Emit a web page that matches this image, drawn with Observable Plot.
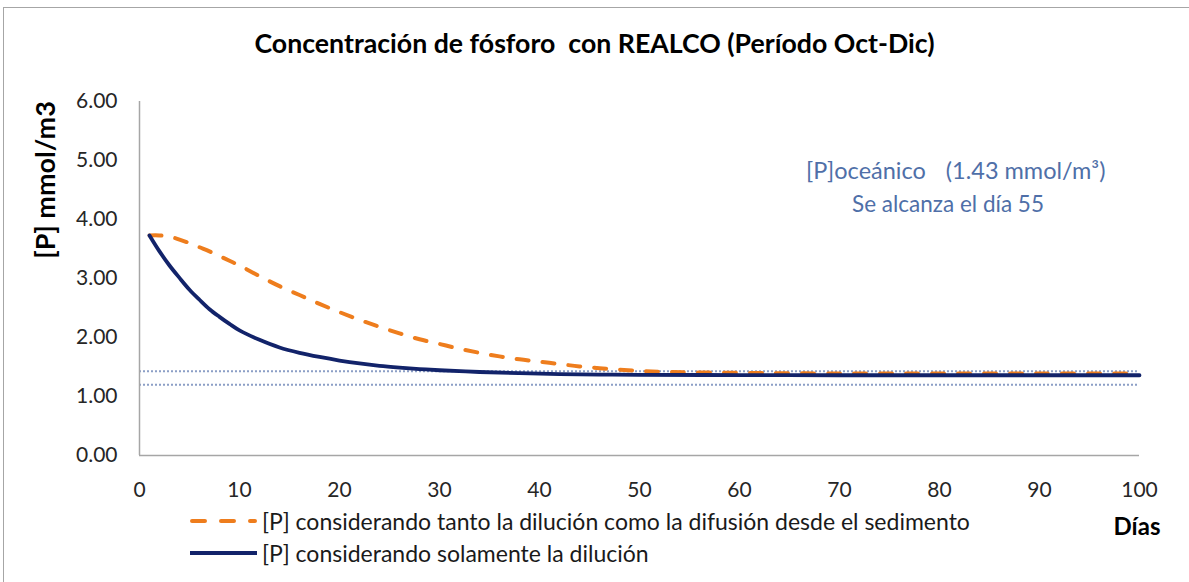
<!DOCTYPE html>
<html>
<head>
<meta charset="utf-8">
<script src="https://cdn.jsdelivr.net/npm/d3@7"></script>
<script src="https://cdn.jsdelivr.net/npm/@observablehq/plot@0.6"></script>
<style>
  html, body { margin: 0; padding: 0; background: #fff; }
  #wrap { position: relative; width: 1189px; height: 582px; overflow: hidden; font-family: Lato, "Open Sans", sans-serif; }
  #frame { position: absolute; left: 3px; top: 7px; width: 1200px; height: 600px; border-left: 1px solid #a6a6a6; border-top: 1px solid #a6a6a6; }
  #chart { position: absolute; left: 0; top: 0; }
  #title { position: absolute; left: 0; width: 1189px; top: 27px; text-align: center; font-weight: bold; font-size: 26.7px; color: #000; white-space: pre; }
  #ylabel { position: absolute; left: 44px; top: 180px; transform: translate(-50%, -50%) rotate(-90deg); font-weight: bold; font-size: 27px; color: #000; white-space: nowrap; }
  #xlabel { position: absolute; left: 1137px; top: 525px; transform: translate(-50%, -50%); font-weight: bold; font-size: 24px; color: #000; }
  .note { position: absolute; transform: translateY(-50%); font-size: 22.5px; color: #4f6fa8; white-space: pre; }
  .leg { position: absolute; left: 190px; display: flex; align-items: center; font-size: 23px; color: #1a1a1a; white-space: nowrap; }
  .leg svg { margin-right: 5px; }
</style>
</head>
<body>
<div id="wrap">
  <div id="frame"></div>
  <div id="chart"></div>
  <div id="title">Concentración de fósforo  con REALCO (Período Oct-Dic)</div>
  <div id="ylabel">[P] mmol/m3</div>
  <div id="xlabel">Días</div>
  <div class="note" style="top:170px; left:806px; font-size:23.5px">[P]oceánico<span style="margin-left:20px">(1.43 mmol/m³)</span></div>
  <div class="note" style="top:203px; left:948px; transform: translate(-50%, -50%)">Se alcanza el día 55</div>
  <div class="leg" style="top:507px">
    <svg width="67" height="24"><line x1="2" y1="12" x2="65" y2="12" stroke="#ee7d1d" stroke-width="4" stroke-linecap="round" stroke-dasharray="13,16"></line></svg>
    <span>[P] considerando tanto la dilución como la difusión desde el sedimento</span>
  </div>
  <div class="leg" style="top:539px">
    <svg width="67" height="24"><line x1="0" y1="12" x2="67" y2="12" stroke="#12236a" stroke-width="4"></line></svg>
    <span>[P] considerando solamente la dilución</span>
  </div>
</div>
<script>
// Dilution only
const diluDays = [1, 2, 3, 4, 5, 6, 7, 8, 9, 10, 12, 14, 16, 18, 20, 22, 24, 26, 28, 30, 34, 38, 42, 46, 50, 60, 70, 80, 90, 100];
const diluP    = [3.73, 3.46, 3.22, 3.01, 2.81, 2.64, 2.48, 2.35, 2.23, 2.12, 1.96, 1.83, 1.74, 1.67, 1.61, 1.56, 1.52, 1.49, 1.465, 1.445, 1.415, 1.395, 1.38, 1.372, 1.367, 1.363, 1.36, 1.36, 1.36, 1.36];

// Dilution plus sediment diffusion
const difDays = [1, 2, 3, 4, 5, 6, 7, 8, 9, 10, 12, 14, 16, 18, 20, 22, 24, 26, 28, 30, 32, 34, 36, 38, 40, 42, 44, 46, 48, 50, 52, 55, 60, 70, 80, 90, 100];
const difP    = [3.73, 3.73, 3.71, 3.66, 3.60, 3.53, 3.46, 3.38, 3.30, 3.22, 3.04, 2.87, 2.72, 2.57, 2.43, 2.30, 2.18, 2.07, 1.97, 1.89, 1.81, 1.74, 1.68, 1.63, 1.59, 1.55, 1.51, 1.48, 1.455, 1.435, 1.42, 1.41, 1.40, 1.39, 1.39, 1.39, 1.39];

// Reference levels: oceanic phosphorus and lower bound
const refLevels = [1.43, 1.20];

const xTicks = [0, 10, 20, 30, 40, 50, 60, 70, 80, 90, 100];
const yTicks = [0, 1, 2, 3, 4, 5, 6];

const dilu = diluDays.map((d, i) => ({day: d, p: diluP[i]}));
const dif = difDays.map((d, i) => ({day: d, p: difP[i]}));

const chart = Plot.plot({
  width: 1189,
  height: 582,
  marginLeft: 139,
  marginRight: 50,
  marginTop: 101,
  marginBottom: 127,
  style: {fontFamily: "Lato, 'Open Sans', sans-serif", fontSize: "21px", color: "#262626", background: "transparent"},
  x: {domain: [0, 100]},
  y: {domain: [0, 6]},
  marks: [
    Plot.ruleY(refLevels, {stroke: "#8c9fc6", strokeWidth: 2, strokeDasharray: "2,2"}),
    Plot.ruleX([0], {y1: 0, y2: 6, stroke: "#a6a6a6", strokeWidth: 1.5}),
    Plot.ruleY([0], {x1: 0, x2: 100, stroke: "#a6a6a6", strokeWidth: 1.5}),
    Plot.line(dif, {x: "day", y: "p", curve: "catmull-rom", stroke: "#ee7d1d", strokeWidth: 4, strokeLinecap: "round", strokeDasharray: "12,14"}),
    Plot.line(dilu, {x: "day", y: "p", curve: "catmull-rom", stroke: "#12236a", strokeWidth: 3.8}),
    Plot.axisY({ticks: yTicks, tickFormat: d => d.toFixed(2), tickSize: 0, tickPadding: 22, label: null}),
    Plot.axisX({ticks: xTicks, tickFormat: d => String(d), tickSize: 0, tickPadding: 27, label: null})
  ]
});
document.getElementById("chart").appendChild(chart);
</script>
</body>
</html>
